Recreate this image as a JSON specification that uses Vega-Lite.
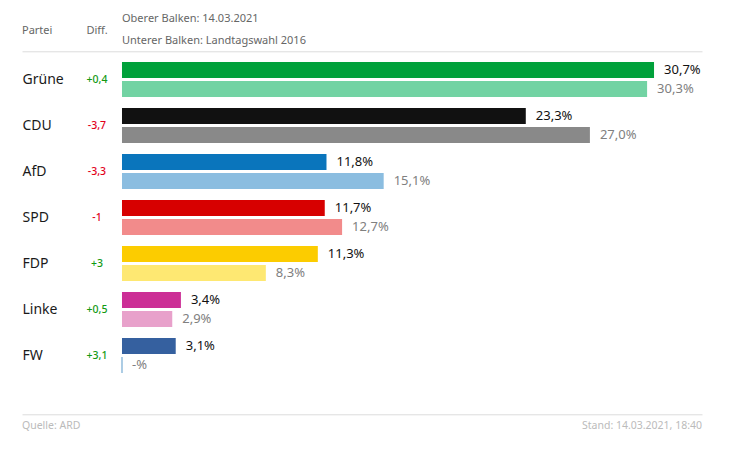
{
  "$schema": "https://vega.github.io/schema/vega-lite/v6.json",
  "autosize": {"type": "none"},
  "width": 680,
  "height": 363,
  "padding": {"left": 22, "top": 51.3, "right": 42, "bottom": 35.7},
  "background": "#ffffff",
  "config": {
    "view": {"stroke": null},
    "font": "Noto Sans",
    "axisX": {"domainColor": "#dcdcdc", "domainWidth": 1, "labels": false, "ticks": false, "grid": false, "title": null},
    "axisY": {"domain": false, "ticks": false, "grid": false, "labelAlign": "left", "labelPadding": 0, "labelBaseline": "middle", "labelFontSize": 14, "labelColor": "#1a1a1a", "labelFont": "Noto Sans", "title": null}
  },
  "datasets": {
    "bars": [
      {"party": "Grüne", "period": "2021", "serie": "Grüne 2021", "value": 30.7, "label": "30,7%"},
      {"party": "Grüne", "period": "2016", "serie": "Grüne 2016", "value": 30.3, "label": "30,3%"},
      {"party": "CDU", "period": "2021", "serie": "CDU 2021", "value": 23.3, "label": "23,3%"},
      {"party": "CDU", "period": "2016", "serie": "CDU 2016", "value": 27.0, "label": "27,0%"},
      {"party": "AfD", "period": "2021", "serie": "AfD 2021", "value": 11.8, "label": "11,8%"},
      {"party": "AfD", "period": "2016", "serie": "AfD 2016", "value": 15.1, "label": "15,1%"},
      {"party": "SPD", "period": "2021", "serie": "SPD 2021", "value": 11.7, "label": "11,7%"},
      {"party": "SPD", "period": "2016", "serie": "SPD 2016", "value": 12.7, "label": "12,7%"},
      {"party": "FDP", "period": "2021", "serie": "FDP 2021", "value": 11.3, "label": "11,3%"},
      {"party": "FDP", "period": "2016", "serie": "FDP 2016", "value": 8.3, "label": "8,3%"},
      {"party": "Linke", "period": "2021", "serie": "Linke 2021", "value": 3.4, "label": "3,4%"},
      {"party": "Linke", "period": "2016", "serie": "Linke 2016", "value": 2.9, "label": "2,9%"},
      {"party": "FW", "period": "2021", "serie": "FW 2021", "value": 3.1, "label": "3,1%"},
      {"party": "FW", "period": "2016", "serie": "FW 2016", "value": 0, "label": "-%"}
    ],
    "parties": [
      {"party": "Grüne", "diff": 0.4, "diffText": "+0,4"},
      {"party": "CDU", "diff": -3.7, "diffText": "-3,7"},
      {"party": "AfD", "diff": -3.3, "diffText": "-3,3"},
      {"party": "SPD", "diff": -1, "diffText": "-1"},
      {"party": "FDP", "diff": 3, "diffText": "+3"},
      {"party": "Linke", "diff": 0.5, "diffText": "+0,5"},
      {"party": "FW", "diff": 3.1, "diffText": "+3,1"}
    ],
    "header": [{"partei": "Partei", "diff": "Diff.", "oben": "Oberer Balken: 14.03.2021", "unten": "Unterer Balken: Landtagswahl 2016"}],
    "footer": [{"quelle": "Quelle: ARD", "stand": "Stand: 14.03.2021, 18:40"}]
  },
  "resolve": {"axis": {"x": "independent"}},
  "layer": [
    {
      "data": {"name": "bars"},
      "mark": {"type": "bar", "cornerRadius": 0},
      "encoding": {
        "y": {"field": "party", "type": "nominal", "title": null,
              "scale": {"domain": ["Grüne", "CDU", "AfD", "SPD", "FDP", "Linke", "FW"], "paddingInner": 0, "paddingOuter": 0.4457, "align": 0.127}},
        "yOffset": {"field": "period", "type": "nominal",
                    "scale": {"domain": ["2021", "2016"], "paddingInner": 0.158, "paddingOuter": 0.29}},
        "x": {"field": "value", "type": "quantitative", "title": null,
              "scale": {"domain": [-5.77, 33.468], "nice": false, "zero": false},
              "axis": {"orient": "bottom"}},
        "color": {"field": "serie", "type": "nominal", "legend": null,
                  "scale": {"domain": ["Grüne 2021", "Grüne 2016", "CDU 2021", "CDU 2016", "AfD 2021", "AfD 2016", "SPD 2021", "SPD 2016", "FDP 2021", "FDP 2016", "Linke 2021", "Linke 2016", "FW 2021", "FW 2016"],
                            "range": ["#00a13b", "#72d3a3", "#111111", "#898989", "#0a75bc", "#8bbde0", "#d70000", "#f28b8b", "#fccc00", "#fee872", "#cc2e96", "#e8a1cb", "#35609f", "#92bcdc"]}},
        "stroke": {"field": "serie", "type": "nominal", "legend": null,
                  "scale": {"domain": ["Grüne 2021", "Grüne 2016", "CDU 2021", "CDU 2016", "AfD 2021", "AfD 2016", "SPD 2021", "SPD 2016", "FDP 2021", "FDP 2016", "Linke 2021", "Linke 2016", "FW 2021", "FW 2016"],
                            "range": ["#00a13b", "#72d3a3", "#111111", "#898989", "#0a75bc", "#8bbde0", "#d70000", "#f28b8b", "#fccc00", "#fee872", "#cc2e96", "#e8a1cb", "#35609f", "#92bcdc"]}},
        "strokeWidth": {"condition": {"test": "datum.value == 0", "value": 1.5}, "value": 0}
      }
    },
    {
      "data": {"name": "bars"},
      "mark": {"type": "text", "align": "left", "baseline": "middle", "dx": 10, "fontSize": 13},
      "encoding": {
        "y": {"field": "party", "type": "nominal", "title": null},
        "yOffset": {"field": "period", "type": "nominal"},
        "x": {"field": "value", "type": "quantitative", "title": null, "axis": {"orient": "top"}},
        "text": {"field": "label"},
        "color": {"condition": {"test": "datum.period == '2021'", "value": "#111111"}, "value": "#808080"},
        "fontWeight": {"condition": {"test": "datum.period == '2021'", "value": "bold"}, "value": "normal"}
      }
    },
    {
      "data": {"name": "parties"},
      "mark": {"type": "text", "align": "center", "baseline": "middle", "fontSize": 10.5, "fontWeight": 500},
      "encoding": {
        "y": {"field": "party", "type": "nominal", "title": null},
        "x": {"datum": -1.443, "type": "quantitative", "axis": null},
        "text": {"field": "diffText"},
        "color": {"condition": {"test": "datum.diff > 0", "value": "#139a13"}, "value": "#e2001a"}
      }
    },
    {
      "data": {"name": "header"},
      "mark": {"type": "text", "align": "left", "baseline": "middle", "fontSize": 11, "color": "#666666", "dy": -48.5},
      "encoding": {
        "y": {"datum": "Grüne", "type": "nominal", "title": null},
        "x": {"datum": -5.77, "type": "quantitative", "axis": null},
        "text": {"field": "partei"}
      }
    },
    {
      "data": {"name": "header"},
      "mark": {"type": "text", "align": "center", "baseline": "middle", "fontSize": 11, "color": "#666666", "dy": -48.5},
      "encoding": {
        "y": {"datum": "Grüne", "type": "nominal", "title": null},
        "x": {"datum": -1.443, "type": "quantitative", "axis": null},
        "text": {"field": "diff"}
      }
    },
    {
      "data": {"name": "header"},
      "mark": {"type": "text", "align": "left", "baseline": "middle", "fontSize": 11, "color": "#666666", "dy": -60.5},
      "encoding": {
        "y": {"datum": "Grüne", "type": "nominal", "title": null},
        "x": {"datum": 0, "type": "quantitative", "axis": null},
        "text": {"field": "oben"}
      }
    },
    {
      "data": {"name": "header"},
      "mark": {"type": "text", "align": "left", "baseline": "middle", "fontSize": 11, "color": "#666666", "dy": -38.5},
      "encoding": {
        "y": {"datum": "Grüne", "type": "nominal", "title": null},
        "x": {"datum": 0, "type": "quantitative", "axis": null},
        "text": {"field": "unten"}
      }
    },
    {
      "data": {"name": "footer"},
      "mark": {"type": "text", "align": "left", "baseline": "middle", "fontSize": 10.5, "color": "#bbbbbb", "dy": 70.5},
      "encoding": {
        "y": {"datum": "FW", "type": "nominal", "title": null},
        "x": {"datum": -5.77, "type": "quantitative", "axis": null},
        "text": {"field": "quelle"}
      }
    },
    {
      "data": {"name": "footer"},
      "mark": {"type": "text", "align": "right", "baseline": "middle", "fontSize": 10.5, "color": "#bbbbbb", "dy": 70.5},
      "encoding": {
        "y": {"datum": "FW", "type": "nominal", "title": null},
        "x": {"datum": 33.468, "type": "quantitative", "axis": null},
        "text": {"field": "stand"}
      }
    }
  ]
}
